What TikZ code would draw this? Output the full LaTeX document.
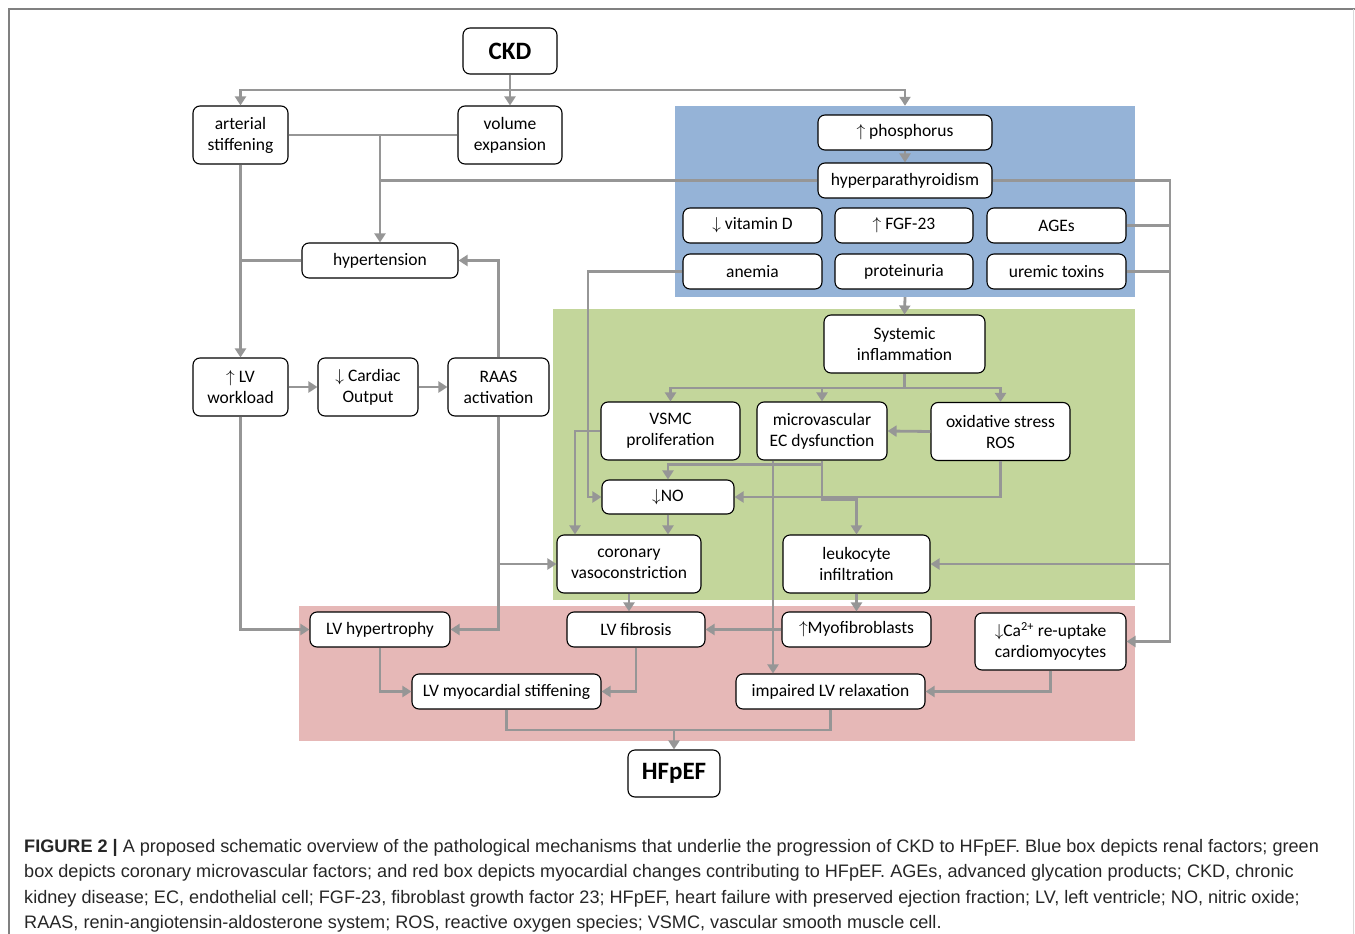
\documentclass[tikz,border=0pt]{standalone}
\usepackage{fontspec}
\setmainfont{Liberation Sans}
\newfontfamily\calib{Carlito}
\usetikzlibrary{arrows.meta,positioning}
\definecolor{renal}{RGB}{149,179,215}
\definecolor{coron}{RGB}{195,214,155}
\definecolor{myoc}{RGB}{230,184,183}
\definecolor{linegray}{RGB}{150,150,150}
\definecolor{framegray}{RGB}{128,128,128}

\begin{document}
\begin{tikzpicture}[x=1pt, y=-1pt,
  box/.style={draw, rounded corners=7pt, fill=white, line width=1.1pt, align=center, inner sep=0pt, font=\calib\fontsize{17.5}{21}\selectfont},
  bigbox/.style={box, font=\calib\bfseries\fontsize{25}{28}\selectfont},
  zone/.style={inner sep=0pt, draw=none},
  link/.style={draw=linegray, line width=2.8pt},
  arr/.style={link, -{Triangle[length=9pt,width=11pt]}},
  capline/.style={anchor=base west, inner sep=0pt, font=\fontsize{18.1}{22}\selectfont, text=black!85}]
%\draw [help lines, step=10pt](0,0) grid (1355,934);
\useasboundingbox (0,0) rectangle (1355,934);
\draw [framegray, line width=1.5pt] (9,934) -- (9,9) -- (1355,9);
\draw [black!15, line width=1pt] (1353,9) -- (1353,934);

% coloured regions
\node [zone, fill=renal, minimum width=460pt, minimum height=191pt] (blue) at (905,201.5) {};
\node [zone, fill=coron, minimum width=582pt, minimum height=291pt] (green) at (844,454.5) {};
\node [zone, fill=myoc, minimum width=836pt, minimum height=135pt] (red) at (717,673.5) {};

% boxes
\node [bigbox, minimum width=94pt, minimum height=46pt] (ckd) at (510,51) {CKD};
\node [box, minimum width=95pt, minimum height=58pt] (art) at (240.5,135) {arterial\\stiffening};
\node [box, minimum width=104pt, minimum height=58pt] (vol) at (510,135) {volume\\expansion};
\node [box, minimum width=156pt, minimum height=35pt] (hyp) at (380,260.5) {hypertension};
\node [box, minimum width=95pt, minimum height=58pt] (lvw) at (240.5,387) {$\uparrow$ LV\\workload};
\node [box, minimum width=100pt, minimum height=58pt] (co) at (368,387) {$\downarrow$ Cardiac\\Output};
\node [box, minimum width=101pt, minimum height=58pt] (raas) at (498.5,387) {RAAS\\activation};

\node [box, minimum width=174pt, minimum height=35pt] (pho) at (905,132.5) {$\uparrow$ phosphorus};
\node [box, minimum width=174pt, minimum height=35pt] (hpt) at (905,180.5) {hyperparathyroidism};
\node [box, minimum width=139pt, minimum height=35pt] (vitd) at (752.5,225.5) {$\downarrow$ vitamin D};
\node [box, minimum width=138pt, minimum height=35pt] (fgf) at (904,225.5) {$\uparrow$ FGF-23};
\node [box, minimum width=139pt, minimum height=35pt] (age) at (1056.5,225.5) {AGEs};
\node [box, minimum width=139pt, minimum height=35pt] (ane) at (752.5,271.5) {anemia};
\node [box, minimum width=138pt, minimum height=35pt] (pro) at (904,271.5) {proteinuria};
\node [box, minimum width=139pt, minimum height=35pt] (ure) at (1056.5,271.5) {uremic toxins};

\node [box, minimum width=161pt, minimum height=58pt] (sys) at (904.5,344) {Systemic\\inflammation};
\node [box, minimum width=139pt, minimum height=58pt] (vsmc) at (670.5,431) {VSMC\\proliferation};
\node [box, minimum width=130pt, minimum height=58pt] (mic) at (822,431) {microvascular\\EC dysfunction};
\node [box, minimum width=139pt, minimum height=58pt] (ox) at (1000.5,431.5) {oxidative stress\\ROS};
\node [box, minimum width=132pt, minimum height=34pt] (no) at (668,497) {$\downarrow$NO};
\node [box, minimum width=144pt, minimum height=58pt] (cor) at (629,564) {coronary\\vasoconstriction};
\node [box, minimum width=147pt, minimum height=58pt] (leu) at (856.5,564) {leukocyte\\infiltration};

\node [box, minimum width=140pt, minimum height=35pt] (lvh) at (380,629.5) {LV hypertrophy};
\node [box, minimum width=138pt, minimum height=35pt] (fib) at (636,629.5) {LV fibrosis};
\node [box, minimum width=149pt, minimum height=35pt] (myo) at (856.5,629.5) {$\uparrow$Myofibroblasts};
\node [box, minimum width=151pt, minimum height=57pt] (ca) at (1050.5,641.5) {$\downarrow$Ca\textsuperscript{2+} re-uptake\\cardiomyocytes};
\node [box, minimum width=189pt, minimum height=35pt] (stf) at (506.5,691.5) {LV myocardial stiffening};
\node [box, minimum width=189pt, minimum height=35pt] (rel) at (830.5,691.5) {impaired LV relaxation};
\node [bigbox, minimum width=92pt, minimum height=47pt] (hf) at (674,773.5) {HFpEF};

% junctions
\coordinate (split) at (510,90);
\coordinate (rr) at (1170,180.5);
\coordinate (al) at (588,271.5);
\coordinate (sb) at (904.5,388);
\coordinate (hj) at (674,730);

% connectors
\draw [link] (ckd.south) -- (split);
\draw [arr] (split) -| (art.north);
\draw [arr] (split) -- (vol.north);
\draw [arr] (split) -| (blue.north);
\draw [link] (art.east) -- (vol.west);
\draw [arr] (art.east -| hyp.north) -- (hyp.north);
\draw [link] (hpt.west) -- (hpt.west -| hyp.north);
\draw [arr] (art.south) -- (lvw.north);
\draw [link] (hyp.west) -- (hyp.west -| art.south);
\draw [arr] (lvw) -- (co);
\draw [arr] (co) -- (raas);
\draw [arr] (raas.north) |- (hyp.east);
\draw [arr] (raas.south) |- (lvh.east);
\draw [arr] (raas.south |- cor.west) -- (cor.west);
\draw [arr] (lvw.south) |- (lvh.west);

\draw [arr] (pho) -- (hpt);
\draw [arr] (hpt.east) -- (rr) |- (ca.east);
\draw [link] (age.east) -- (age.east -| rr);
\draw [link] (ure.east) -- (ure.east -| rr);
\draw [arr] (rr |- leu.east) -- (leu.east);
\draw [arr] (ane.west) -- (al) |- (no.west);
\draw [arr] (blue.south) -- (sys.north);

\draw [link] (sys.south) -- (sb);
\draw [arr] (sb) -| (vsmc.north);
\draw [arr] (sb) -| (ox.north);
\draw [arr] (mic.north |- sb) -- (mic.north);
\draw [arr] (ox.west) -- (mic.east);
\draw [arr] (ox.south) |- (no.east);
\draw [arr] (mic.south) -- ++(0,4) -| (no.north);
\draw [arr] (mic.south) -- ++(0,39) -| (leu.north);
\draw [arr] (vsmc.west) -| ([xshift=-54pt]cor.north);
\draw [arr] (no.south) -- (no.south |- cor.north);
\draw [arr] ([xshift=-49pt]mic.south) -- ([xshift=-49pt]mic.south |- rel.north);

\draw [arr] (cor.south) -- (cor.south |- fib.north);
\draw [arr] (leu) -- (myo);
\draw [arr] (myo.west) -- (fib.east);
\draw [arr] (lvh.south) |- (stf.west);
\draw [arr] (fib.south) |- (stf.east);
\draw [arr] (ca.south) |- (rel.east);
\draw [link] (stf.south) |- (hj);
\draw [link] (rel.south) |- (hj);
\draw [arr] (hj) -- (hf.north);

% caption
\node [capline] (cap1) at (24,852) {\textbf{FIGURE 2 \textbar} A proposed schematic overview of the pathological mechanisms that underlie the progression of CKD to HFpEF. Blue box depicts renal factors; green};
\node [capline] (cap2) at (24,877.5) {box depicts coronary microvascular factors; and red box depicts myocardial changes contributing to HFpEF. AGEs, advanced glycation products; CKD, chronic};
\node [capline] (cap3) at (24,903) {kidney disease; EC, endothelial cell; FGF-23, fibroblast growth factor 23; HFpEF, heart failure with preserved ejection fraction; LV, left ventricle; NO, nitric oxide;};
\node [capline] (cap4) at (24,928) {RAAS, renin-angiotensin-aldosterone system; ROS, reactive oxygen species; VSMC, vascular smooth muscle cell.};
\end{tikzpicture}
\end{document}
